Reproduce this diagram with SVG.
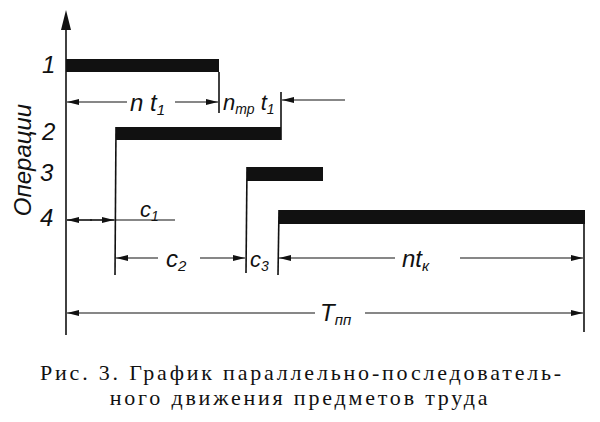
<svg xmlns="http://www.w3.org/2000/svg" width="600" height="422" viewBox="0 0 600 422">
<defs>
<marker id="a" viewBox="0 0 12 6" refX="12" refY="3" markerWidth="12" markerHeight="6" markerUnits="userSpaceOnUse" orient="auto-start-reverse"><path d="M0,0 L12,3 L0,6 Z" fill="#111"/></marker>
</defs>
<style>
.l{stroke:#111;stroke-width:1.6;fill:none}
.d{stroke:#111;stroke-width:1.2;fill:none}
.b{fill:#111}
.i{font-family:"Liberation Sans",sans-serif;font-style:italic;fill:#111}
.c{font-family:"Liberation Serif",serif;font-size:22px;fill:#111;letter-spacing:2.8px}
</style>
<rect width="600" height="422" fill="#fff"/>
<g id="axis">
<line class="l" x1="66" y1="335" x2="66" y2="24" stroke-width="2.5"/>
<path class="b" d="M61,30 L66,10 L71,30 Z"/>
<text class="i" font-size="24" x="42" y="73">1</text>
<text class="i" font-size="24" x="42" y="140">2</text>
<text class="i" font-size="24" x="40" y="181">3</text>
<text class="i" font-size="24" x="40" y="226">4</text>
<text class="i" font-size="24" transform="translate(31,160) rotate(-90)" text-anchor="middle">Операции</text>
</g>
<g id="op1"><rect class="b" x="66" y="59" width="153" height="13"/><line class="l" x1="219" y1="72" x2="219" y2="113"/></g>
<g id="op2"><rect class="b" x="116" y="127" width="165" height="13"/><line class="l" x1="281" y1="92" x2="281" y2="140"/><line class="l" x1="116" y1="127" x2="115" y2="275"/></g>
<g id="op3"><rect class="b" x="247" y="167" width="76" height="14"/><line class="l" x1="247" y1="167" x2="246" y2="273"/></g>
<g id="op4"><rect class="b" x="279" y="210" width="306" height="14"/><line class="l" x1="279" y1="210" x2="278" y2="275"/><line class="l" x1="584" y1="224" x2="584" y2="332"/></g>
<g id="connectors">
<line class="d" x1="127" y1="102" x2="67" y2="102" marker-end="url(#a)"/>
<line class="d" x1="175" y1="102" x2="218" y2="102" marker-end="url(#a)"/>
<line class="d" x1="345" y1="100" x2="282" y2="100" marker-end="url(#a)"/>
<line class="d" x1="67" y1="220" x2="175" y2="220"/>
<line class="d" x1="92" y1="220" x2="67" y2="220" marker-end="url(#a)"/>
<line class="d" x1="90" y1="220" x2="114" y2="220" marker-end="url(#a)"/>
<line class="d" x1="158" y1="258" x2="116" y2="258" marker-end="url(#a)"/>
<line class="d" x1="200" y1="258" x2="245" y2="258" marker-end="url(#a)"/>
<line class="d" x1="395" y1="258" x2="279" y2="258" marker-end="url(#a)"/>
<line class="d" x1="460" y1="258" x2="583" y2="258" marker-end="url(#a)"/>
<line class="d" x1="315" y1="313" x2="67" y2="313" marker-end="url(#a)"/>
<line class="d" x1="365" y1="313" x2="583" y2="313" marker-end="url(#a)"/>
<text class="i" font-size="24" x="130" y="111">n t<tspan font-size="15" dy="4">1</tspan></text>
<text class="i" font-size="22" x="223" y="110">n<tspan font-size="14" dy="4">тр</tspan><tspan dy="-4"> t</tspan><tspan font-size="14" dy="4">1</tspan></text>
<text class="i" font-size="22" x="140" y="217">c<tspan font-size="14" dy="4">1</tspan></text>
<text class="i" font-size="24" x="166" y="267">c<tspan font-size="15" dy="4">2</tspan></text>
<text class="i" font-size="22" x="250" y="267">c<tspan font-size="14" dy="4">3</tspan></text>
<text class="i" font-size="24" x="402" y="267">nt<tspan font-size="15" dy="4">к</tspan></text>
<text class="i" font-size="24" x="320" y="321">T<tspan font-size="15" dy="4">пп</tspan></text>
</g>
<text class="c" x="302" y="380" text-anchor="middle">Рис. 3. График параллельно-последователь-</text>
<text class="c" x="300" y="405" text-anchor="middle">ного движения предметов труда</text>
</svg>
